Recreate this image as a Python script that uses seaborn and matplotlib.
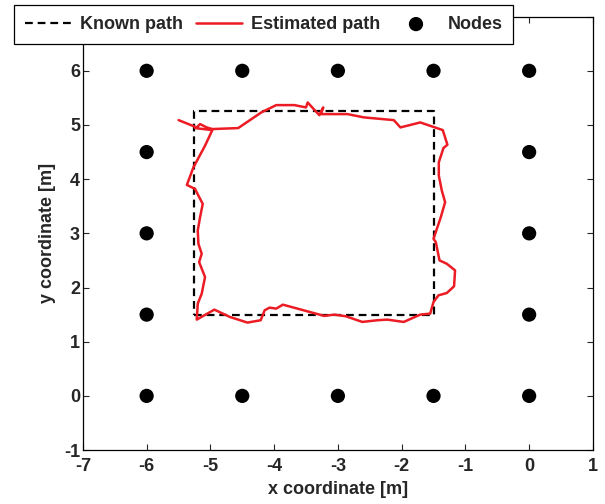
import matplotlib
matplotlib.use("Agg")
import matplotlib.pyplot as plt
import seaborn as sns

# 锚节点位置
nodes_x = [-6, -4.5, -3, -1.5, 0, -6, 0, -6, 0, -6, 0, -6, -4.5, -3, -1.5, 0]
nodes_y = [6, 6, 6, 6, 6, 4.5, 4.5, 3, 3, 1.5, 1.5, 0, 0, 0, 0, 0]

# 已知路径 (正方形)
known_x = [-5.25, -1.5, -1.5, -5.25, -5.25]
known_y = [1.5, 1.5, 5.25, 5.25, 1.5]

# 估计路径
est_x = [-5.240, -4.970, -5.084, -5.266, -5.369, -5.240, -5.188, -5.120, -5.162, -5.198,
         -5.188, -5.136, -5.177, -5.084, -5.136, -5.198, -5.214, -4.938, -4.694, -4.419,
         -4.211, -4.149, -4.071, -3.967, -3.863, -3.214, -3.058, -2.876, -2.617, -2.383,
         -2.227, -1.967, -1.708, -1.552, -1.500, -1.422, -1.292, -1.178, -1.162, -1.292,
         -1.406, -1.464, -1.500, -1.386, -1.318, -1.370, -1.417, -1.417, -1.344, -1.282,
         -1.355, -1.708, -2.019, -2.123, -2.591, -2.850, -3.266, -3.230, -3.292, -3.474,
         -3.500, -3.681, -3.967, -4.201, -4.564, -4.970, -5.058, -5.162, -5.214, -5.499]
est_y = [4.943, 4.906, 4.618, 4.219, 3.894, 3.820, 3.697, 3.544, 3.298, 3.053,
         2.807, 2.623, 2.470, 2.194, 1.887, 1.703, 1.408, 1.592, 1.457, 1.353,
         1.396, 1.580, 1.629, 1.611, 1.684, 1.476, 1.500, 1.470, 1.365, 1.396,
         1.408, 1.365, 1.500, 1.519, 1.733, 1.856, 1.899, 2.022, 2.317, 2.439,
         2.501, 2.838, 2.900, 3.298, 3.575, 3.789, 4.066, 4.311, 4.575, 4.636,
         4.906, 5.047, 4.955, 5.090, 5.140, 5.201, 5.201, 5.324, 5.182, 5.416,
         5.324, 5.367, 5.367, 5.232, 4.943, 4.925, 4.955, 5.017, 4.955, 5.090]

x_ticks = list(range(-7, 2))
y_ticks = list(range(-1, 8))


def main():
    sns.set_style("ticks")
    plt.rcParams["font.family"] = ["Liberation Sans", "DejaVu Sans"]
    plt.rcParams["font.weight"] = "bold"
    plt.rcParams["axes.unicode_minus"] = False  # MATLAB 风格的连字符负号

    fig = plt.figure(figsize=(6.05, 5.04), dpi=100)
    ax = fig.add_axes([0.137, 0.107, 0.843, 0.860])

    sns.lineplot(x=known_x, y=known_y, sort=False, estimator=None, ax=ax,
                 color="black", linewidth=1.6, linestyle=(0, (3.5, 2.2)), label="Known path")
    sns.lineplot(x=est_x, y=est_y, sort=False, estimator=None, ax=ax,
                 color="#ec1c24", linewidth=1.8, label="Estimated path")
    sns.scatterplot(x=nodes_x, y=nodes_y, ax=ax, color="black", s=105,
                    edgecolor="none", label="Nodes", zorder=3)

    ax.set_xlim(-7, 1)
    ax.set_ylim(-1, 7)
    ax.set_xticks(x_ticks)
    ax.set_yticks(y_ticks)
    ax.tick_params(direction="in", top=True, right=True, length=4, width=0.8,
                   labelsize=13, pad=2)
    ax.tick_params(axis="x", pad=6)
    for lab in ax.get_xticklabels() + ax.get_yticklabels():
        lab.set_fontweight("bold")
    for sp in ax.spines.values():
        sp.set_linewidth(0.9)
        sp.set_color("black")

    ax.set_xlabel("x coordinate [m]", fontsize=13, fontweight="bold", labelpad=4)
    ax.set_ylabel("y coordinate [m]", fontsize=13, fontweight="bold", labelpad=6)

    handles, labels = ax.get_legend_handles_labels()
    ax.get_legend().remove()
    leg = fig.legend(handles, labels, loc="upper left", bbox_to_anchor=(14 / 605, 1 - 5 / 504),
                     ncol=3, frameon=True, fancybox=False, edgecolor="black", framealpha=1,
                     prop={"weight": "bold", "size": 13}, borderaxespad=0,
                     handlelength=2.6, columnspacing=0.7, handletextpad=0.45, borderpad=0.6)
    leg.get_frame().set_linewidth(0.9)

    fig.savefig("out.png", dpi=100)
    plt.close(fig)


if __name__ == "__main__":
    main()
